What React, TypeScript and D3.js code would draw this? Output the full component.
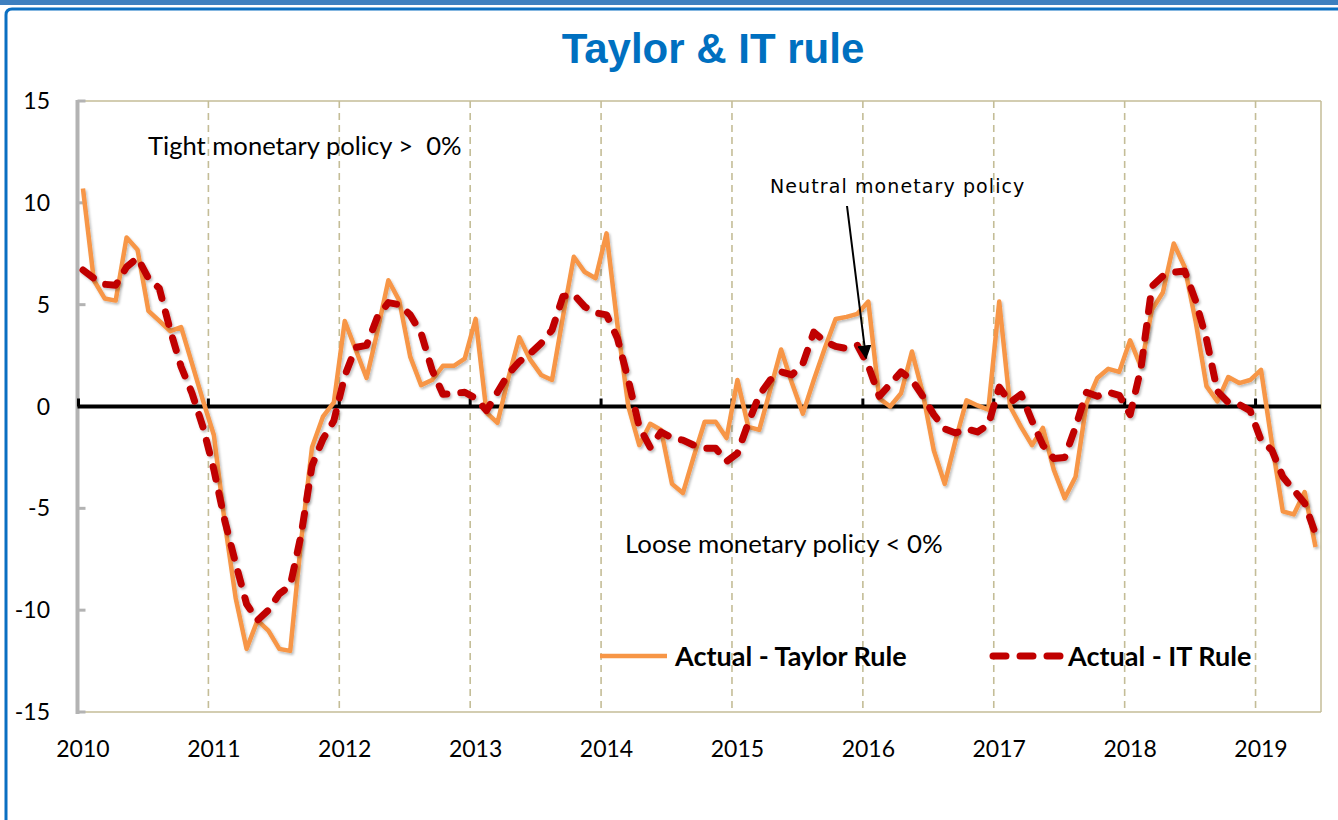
import React from "react";
import * as d3 from "d3";

const years = ["2010", "2011", "2012", "2013", "2014", "2015", "2016", "2017", "2018", "2019"];
const yTicks = [15, 10, 5, 0, -5, -10, -15];

// Monthly gaps, Jan 2010 .. Jun 2019
const taylorGap = [
  10.7, 6.2, 5.3, 5.2, 8.3, 7.7, 4.7, 4.2, 3.7, 3.9, 2.1, 0.3,
  -1.4, -5.7, -9.4, -11.9, -10.5, -11.0, -11.9, -12.0, -6.6, -2.0, -0.5, 0.2,
  4.2, 2.8, 1.4, 3.7, 6.2, 5.2, 2.45, 1.05, 1.3, 2.0, 2.0, 2.35,
  4.3, -0.3, -0.8, 1.4, 3.4, 2.3, 1.55, 1.3, 4.4, 7.35, 6.6, 6.3,
  8.5, 4.0, 0.0, -1.9, -0.85, -1.15, -3.8, -4.25, -2.45, -0.75, -0.75, -1.55,
  1.3, -1.0, -1.15, 0.8, 2.8, 1.15, -0.35, 1.3, 2.85, 4.3, 4.4, 4.55,
  5.15, 0.4, 0.0, 0.65, 2.7, 0.65, -2.15, -3.8, -1.65, 0.3, 0.05, -0.15,
  5.15, 0.0, -1.0, -1.9, -1.05, -3.1, -4.5, -3.45, 0.15, 1.4, 1.85, 1.7,
  3.25, 1.95, 4.75, 5.6, 8.0, 6.85, 4.2, 1.0, 0.25, 1.45, 1.15, 1.3,
  1.8, -1.8, -5.15, -5.3, -4.2, -6.9,
];

const itGap = [
  6.7, 6.3, 6.0, 5.95, 6.85, 7.3, 6.3, 5.8, 3.75, 1.95, 0.65, -1.0,
  -3.1, -5.6, -7.7, -9.7, -10.5, -10.0, -9.2, -8.8, -6.3, -2.9, -1.6, -0.7,
  1.5, 2.9, 3.0, 4.4, 5.1, 5.0, 4.5, 3.6, 1.8, 0.6, 0.65, 0.7,
  0.4, -0.2, 0.7, 1.6, 2.2, 2.6, 3.1, 3.75, 5.4, 5.5, 4.9, 4.6,
  4.5, 3.35, 1.3, -1.0, -2.0, -1.25, -1.55, -1.65, -1.9, -2.05, -2.05, -2.7,
  -2.3, -0.8, 0.55, 1.3, 1.7, 1.55, 2.1, 3.65, 3.2, 2.95, 2.85, 3.0,
  2.0, 0.5, 1.1, 1.7, 1.3, 0.5, -0.4, -1.1, -1.3, -1.1, -1.25, -0.9,
  0.95, 0.2, 0.6, -0.7, -1.9, -2.55, -2.5, -1.0, 0.7, 0.5, 0.7, 0.55,
  -0.4, 1.9, 5.9, 6.4, 6.6, 6.65, 5.2, 3.3, 0.75, 0.2, 0.1, -0.2,
  -1.65, -2.15, -3.45, -4.1, -4.75, -6.25,
];

const seriesNames = ["Actual - Taylor Rule", "Actual - IT Rule"];

const W = 1338;
const H = 820;
const TAN = "#c4bd97";
const ORANGE = "#f79646";
const RED = "#c00000";
const FONT = "Lato, 'Open Sans', sans-serif";
const DASH = "13,14";

export default function App() {
  const nMonths = taylorGap.length;
  const x = d3.scaleLinear().domain([0, nMonths]).range([77.5, 1321]);
  const y = d3.scaleLinear().domain([-15, 15]).range([712, 101]);
  const px = (i: number) => x(i + 0.5);

  const line = d3
    .line<number>()
    .x((_, i) => px(i))
    .y((d) => y(d));

  const left = x(0);
  const right = x(nMonths);

  return (
    <svg
      width={W}
      height={H}
      viewBox={`0 0 ${W} ${H}`}
      style={{ position: "absolute", left: 0, top: 0, background: "#fff" }}
    >
      <defs>
        <filter id="shadow" x="-5%" y="-5%" width="110%" height="110%">
          <feDropShadow dx="1.5" dy="2" stdDeviation="1.2" floodColor="#000" floodOpacity="0.25" />
        </filter>
        <marker id="arrow" viewBox="0 0 10 10" refX="9" refY="5" markerWidth="7" markerHeight="7" orient="auto">
          <path d="M0,0 L10,5 L0,10 z" fill="#000" />
        </marker>
      </defs>

      {/* blue frame */}
      <rect x={0} y={0} width={W} height={5} fill="#3d7fbf" />
      <path d="M6,820 L6,15 Q6,9 12,9 L1338,9" fill="none" stroke="#0a6fc2" strokeWidth={3} />

      {/* title */}
      <text
        x={713}
        y={63}
        textAnchor="middle"
        fontFamily="'Liberation Sans', Arial, sans-serif"
        fontWeight="bold"
        fontSize={42}
        fill="#0070c0"
      >
        Taylor &amp; IT rule
      </text>

      {/* plot border */}
      <line x1={left} x2={right} y1={y(15)} y2={y(15)} stroke={TAN} strokeWidth={1.5} />
      <line x1={left} x2={right} y1={y(-15)} y2={y(-15)} stroke={TAN} strokeWidth={1.5} />
      <line x1={right} x2={right} y1={y(15)} y2={y(-15)} stroke={TAN} strokeWidth={1.5} />

      {/* vertical dashed year gridlines */}
      {years.slice(1).map((_, k) => (
        <line
          key={"g" + k}
          x1={x(12 * (k + 1))}
          x2={x(12 * (k + 1))}
          y1={y(15)}
          y2={y(-15)}
          stroke={TAN}
          strokeWidth={1.6}
          strokeDasharray="7,5"
        />
      ))}

      {/* y axis */}
      <line x1={left} x2={left} y1={y(15) - 1} y2={y(-15) + 2} stroke="#b3b3b3" strokeWidth={4} />
      {yTicks.map((t) => (
        <g key={"yt" + t}>
          <line x1={left} x2={left + 8} y1={y(t)} y2={y(t)} stroke="#b3b3b3" strokeWidth={3} />
          <text
            x={50}
            y={y(t)}
            dy="0.35em"
            textAnchor="end"
            fontFamily={FONT}
            fontSize={23}
            fill="#000"
          >
            {t}
          </text>
        </g>
      ))}

      {/* x labels */}
      {years.map((yr, k) => (
        <text
          key={"xl" + yr}
          x={px(12 * k)}
          y={757}
          textAnchor="middle"
          fontFamily={FONT}
          fontSize={23}
          fill="#000"
        >
          {yr}
        </text>
      ))}

      {/* zero line */}
      <line x1={left} x2={right} y1={y(0)} y2={y(0)} stroke="#000" strokeWidth={4} />
      {years.map((_, k) => (
        <line
          key={"zt" + k}
          x1={x(12 * k) + (k === 0 ? 1 : 0)}
          x2={x(12 * k) + (k === 0 ? 1 : 0)}
          y1={y(0)}
          y2={y(0) - 8}
          stroke="#000"
          strokeWidth={3}
        />
      ))}

      {/* series */}
      <path
        d={line(taylorGap) || ""}
        fill="none"
        stroke={ORANGE}
        strokeWidth={4.5}
        strokeLinejoin="round"
        filter="url(#shadow)"
      />
      <path
        d={line(itGap) || ""}
        fill="none"
        stroke={RED}
        strokeWidth={7}
        strokeDasharray={DASH}
        strokeLinecap="round"
        strokeLinejoin="round"
        filter="url(#shadow)"
      />

      {/* annotations */}
      <text x={148} y={155} fontFamily={FONT} fontSize={25.6} fill="#000" style={{ whiteSpace: "pre" }}>
        {"Tight monetary policy >  0%"}
      </text>
      <text x={625} y={553} fontFamily={FONT} fontSize={25.8} fill="#000" style={{ whiteSpace: "pre" }}>
        {"Loose monetary policy < 0%"}
      </text>
      <text
        x={770}
        y={193}
        fontFamily="'DejaVu Sans', sans-serif"
        fontSize={19}
        letterSpacing={1.1}
        fill="#000"
      >
        Neutral monetary policy
      </text>
      <line
        x1={847}
        y1={206}
        x2={866}
        y2={358}
        stroke="#000"
        strokeWidth={2}
        markerEnd="url(#arrow)"
      />

      {/* legend */}
      <line x1={600} x2={667} y1={656} y2={656} stroke={ORANGE} strokeWidth={4.5} />
      <text x={675} y={666} fontFamily={FONT} fontWeight="bold" fontSize={27} fill="#000">
        {seriesNames[0]}
      </text>
      <line
        x1={993}
        x2={1060}
        y1={656}
        y2={656}
        stroke={RED}
        strokeWidth={7}
        strokeDasharray={DASH}
        strokeLinecap="round"
      />
      <text x={1068} y={666} fontFamily={FONT} fontWeight="bold" fontSize={27} fill="#000">
        {seriesNames[1]}
      </text>
    </svg>
  );
}
